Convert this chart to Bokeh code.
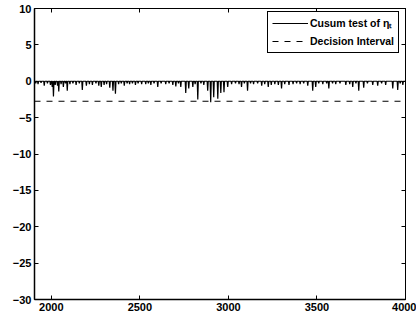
from bokeh.plotting import figure
from bokeh.models import LinearAxis, Range1d, Legend, LegendItem, FixedTicker
from bokeh.embed import file_html
from bokeh.resources import INLINE

# ---- data ----
x_ticks = [2000, 2500, 3000, 3500, 4000]
x_tick_labels = ["2000", "2500", "3000", "3500", "4000"]
y_ticks = [10, 5, 0, -5, -10, -15, -20, -25, -30]
y_tick_labels = ["10", "5", "0", "\u22125", "\u221210", "\u221215", "\u221220", "\u221225", "\u221230"]
t_start = 1905
t_end = 4000
decision_interval = -2.75
series_labels = ["Cusum test of \u03b7\u209c", "Decision Interval"]

# downward excursions of the cusum statistic (time, value); statistic is 0 elsewhere
spike_t = [1912, 1925, 1942, 1960, 1978, 1995, 2005, 2012, 2022, 2035, 2042, 2055, 2068, 2080,
           2090, 2105, 2122, 2140, 2158, 2175, 2198, 2215, 2232, 2252, 2268, 2282, 2298, 2312,
           2330, 2348, 2362, 2380, 2395, 2412, 2428, 2442, 2458, 2475, 2490, 2510, 2533, 2548,
           2562, 2580, 2601, 2620, 2646, 2665, 2686, 2703, 2718, 2731, 2759, 2776, 2799, 2812,
           2827, 2845, 2861, 2883, 2900, 2917, 2940, 2957, 2975, 2996, 3018, 3040, 3060, 3074,
           3090, 3108, 3125, 3142, 3165, 3188, 3205, 3225, 3242, 3262, 3282, 3300, 3318, 3342,
           3365, 3385, 3405, 3425, 3448, 3476, 3493, 3510, 3533, 3555, 3567, 3588, 3606, 3630,
           3663, 3685, 3702, 3720, 3736, 3764, 3785, 3815, 3843, 3865, 3888, 3928, 3956, 3970,
           3985]
spike_v = [-0.3, -0.4, -0.2, -0.6, -0.3, -0.5, -0.8, -2.1, -0.5, -0.6, -1.4, -0.4, -0.8, -0.3,
           -1.3, -0.4, -0.3, -0.5, -0.3, -1.2, -0.6, -0.4, -0.5, -0.3, -0.6, -0.8, -0.5, -0.4,
           -0.9, -1.3, -1.7, -0.4, -0.3, -0.6, -0.3, -0.4, -0.3, -0.5, -0.3, -0.4, -0.4, -0.3,
           -0.5, -0.3, -0.8, -0.3, -0.4, -0.3, -0.5, -0.7, -0.3, -0.8, -1.6, -1.0, -0.8, -0.4,
           -2.5, -0.3, -0.5, -1.3, -2.9, -2.2, -2.4, -1.6, -1.5, -0.8, -0.4, -0.3, -0.4, -0.8,
           -0.3, -1.3, -0.3, -0.4, -0.3, -0.6, -0.4, -0.8, -0.5, -0.4, -0.5, -1.0, -0.4, -0.5,
           -0.4, -0.3, -0.4, -0.3, -0.6, -1.3, -0.8, -0.3, -0.4, -0.3, -1.0, -0.3, -0.4, -0.3,
           -0.5, -0.4, -0.8, -0.3, -1.3, -0.9, -0.3, -0.5, -0.6, -0.3, -0.5, -1.0, -1.2, -0.3,
           -0.5]

# ---- build the polyline: 0 baseline with each excursion ----
line_t = [t_start]
line_v = [0.0]
for t, v in zip(spike_t, spike_v):
    line_t += [t - 3, t, t + 3]
    line_v += [0.0, v, 0.0]
line_t.append(t_end)
line_v.append(0.0)

FONT = "Liberation Sans"

p = figure(width=416, height=325, output_backend="svg", toolbar_location=None,
           x_range=Range1d(t_start, t_end), y_range=Range1d(-30, 10),
           min_border_left=34, min_border_right=11, min_border_top=8, min_border_bottom=26,
           background_fill_color="white", border_fill_color="white")
p.xgrid.visible = False
p.ygrid.visible = False
p.outline_line_color = "black"
p.outline_line_width = 1
p.outline_line_alpha = 1

for ax in p.xaxis:
    ax.ticker = FixedTicker(ticks=x_ticks)
    ax.major_label_overrides = {t: s for t, s in zip(x_ticks, x_tick_labels)}
for ax in p.yaxis:
    ax.ticker = FixedTicker(ticks=y_ticks)
    ax.major_label_overrides = {t: s for t, s in zip(y_ticks, y_tick_labels)}

for ax in list(p.xaxis) + list(p.yaxis):
    ax.major_tick_in = 4
    ax.major_tick_out = 0
    ax.minor_tick_in = 0
    ax.minor_tick_out = 0
    ax.axis_line_color = "black"
    ax.axis_line_width = 1.5
    ax.major_tick_line_color = "black"
    ax.major_label_text_font = FONT
    ax.major_label_text_font_style = "bold"
    ax.major_label_text_font_size = "11px"
    ax.major_label_text_color = "black"
    ax.major_label_standoff = 3

# right and top tick-only axes (box), without labels
ra = LinearAxis(ticker=FixedTicker(ticks=y_ticks),
                major_tick_in=4, major_tick_out=0, minor_tick_in=0, minor_tick_out=0,
                axis_line_color="black", major_tick_line_color="black", major_label_standoff=0,
                major_label_text_color=None)
ra.major_label_overrides = {t: "" for t in y_ticks}
ta = LinearAxis(ticker=FixedTicker(ticks=x_ticks),
                major_tick_in=4, major_tick_out=0, minor_tick_in=0, minor_tick_out=0,
                axis_line_color="black", major_tick_line_color="black", major_label_standoff=0,
                major_label_text_color=None)
ta.major_label_overrides = {t: "" for t in x_ticks}
p.add_layout(ra, "right")
p.add_layout(ta, "above")

r1 = p.line(line_t, line_v, line_color="black", line_width=1.2)
r2 = p.line([t_start, t_end], [decision_interval, decision_interval], line_color="black",
            line_width=1.2, line_dash="6 6")

legend = Legend(items=[LegendItem(label=series_labels[0], renderers=[r1]),
                       LegendItem(label=series_labels[1], renderers=[r2])],
                location=(233, 246))
legend.border_line_color = "black"
legend.border_line_width = 1
legend.border_line_alpha = 1
legend.background_fill_color = "white"
legend.background_fill_alpha = 1
legend.label_text_font = FONT
legend.label_text_font_style = "bold"
legend.label_text_font_size = "10.5px"
legend.label_text_color = "black"
legend.glyph_width = 36
legend.glyph_height = 14
legend.label_height = 14
legend.label_standoff = 2
legend.spacing = 4
legend.padding = 4
legend.margin = 0
p.add_layout(legend)

open("out.html", "w").write(file_html(p, INLINE))
